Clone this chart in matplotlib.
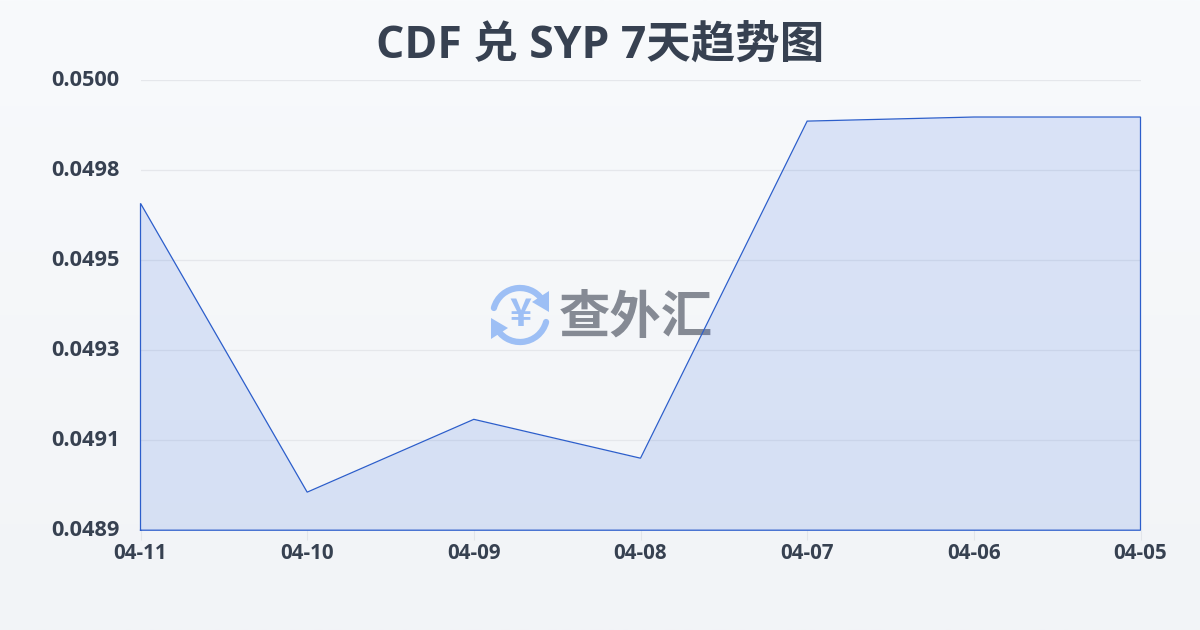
import numpy as np
import matplotlib
matplotlib.use('Agg')
import matplotlib.pyplot as plt
from matplotlib.patches import Arc, Polygon
from matplotlib.transforms import ScaledTranslation

plt.rcParams['font.family'] = ['Open Sans', 'Noto Sans CJK SC', 'DejaVu Sans']

dates = ['04-11', '04-10', '04-09', '04-08', '04-07', '04-06', '04-05']
rates = [0.049699, 0.048993, 0.049171, 0.049076, 0.049900, 0.049910, 0.049910]
y_ticks = [0.0489, 0.04912, 0.04934, 0.04956, 0.04978, 0.0500]
y_labels = ['0.0489', '0.0491', '0.0493', '0.0495', '0.0498', '0.0500']
title = 'CDF 兑 SYP 7天趋势图'
watermark = '查外汇'

fig = plt.figure(figsize=(12, 6.3), dpi=100)

# background gradient
bg = fig.add_axes([0, 0, 1, 1], zorder=0)
bg.axis('off')
grad = np.linspace(0, 1, 256).reshape(-1, 1)
c0 = np.array([0xf8, 0xfa, 0xfc]) / 255
c1 = np.array([0xf2, 0xf4, 0xf7]) / 255
bg.imshow((c0 + (c1 - c0) * grad[..., None]), aspect='auto', extent=[0, 1200, 630, 0])
bg.set_xlim(0, 1200)
bg.set_ylim(630, 0)

# watermark logo (pixel space)
blue = '#9dbff5'
bg.add_patch(Arc((520, 315), 54, 54, theta1=195, theta2=335, color=blue, lw=4.5, capstyle='round'))
bg.add_patch(Arc((520, 315), 54, 54, theta1=15, theta2=155, color=blue, lw=4.5, capstyle='round'))
bg.add_patch(Polygon([[549, 291], [549, 312], [532, 302]], closed=True, color=blue, lw=0))
bg.add_patch(Polygon([[491, 318], [508, 328], [491, 339]], closed=True, color=blue, lw=0))
bg.text(520, 314, '¥', color=blue, fontsize=27, fontweight='bold', ha='center', va='center',
        family=['Noto Sans CJK SC'])
bg.text(636, 317, watermark, color='#858a94', fontsize=37, fontweight='bold', ha='center', va='center',
        family=['Noto Sans CJK SC'])

ax = fig.add_axes([140.5 / 1200, 1 - 530.2 / 630, 1000 / 1200, 450 / 630], zorder=1)
ax.patch.set_alpha(0)
x = np.arange(len(dates))
ax.fill_between(x, rates, 0.0489, color='#2a62e0', alpha=0.14, lw=0, zorder=2)
ax.plot(np.r_[x[0], x, x[-1], x[0]], np.r_[0.0489, rates, 0.0489, 0.0489],
        color='#2c5ecb', lw=0.9, zorder=3, solid_joinstyle='miter', clip_on=False)

ax.set_xlim(0, 6)
ax.set_ylim(0.0489, 0.0500)
ax.set_yticks(y_ticks)
ax.set_yticklabels(y_labels, fontsize=15.7, fontweight='bold', color='#374151')
ax.set_xticks(x)
ax.set_xticklabels(dates, fontsize=14.8, fontweight='bold', color='#374151')
ax.grid(axis='y', color='#e5e7eb', lw=0.9, zorder=1)
ax.grid(axis='x', visible=False)
for s in ax.spines.values():
    s.set_visible(False)
ax.tick_params(axis='y', length=0, pad=15)
ax.tick_params(axis='x', length=7, width=0.8, color='#e2e5ea', pad=2)
shift = ScaledTranslation(0, 1.5 / 72, fig.dpi_scale_trans)
for lab in ax.get_yticklabels():
    lab.set_transform(lab.get_transform() + shift)

fig.text(600 / 1200, 1 - 46 / 630, title, fontsize=32, fontweight='bold', color='#374151',
         ha='center', va='center', zorder=5)

fig.savefig('out.png', dpi=100)
